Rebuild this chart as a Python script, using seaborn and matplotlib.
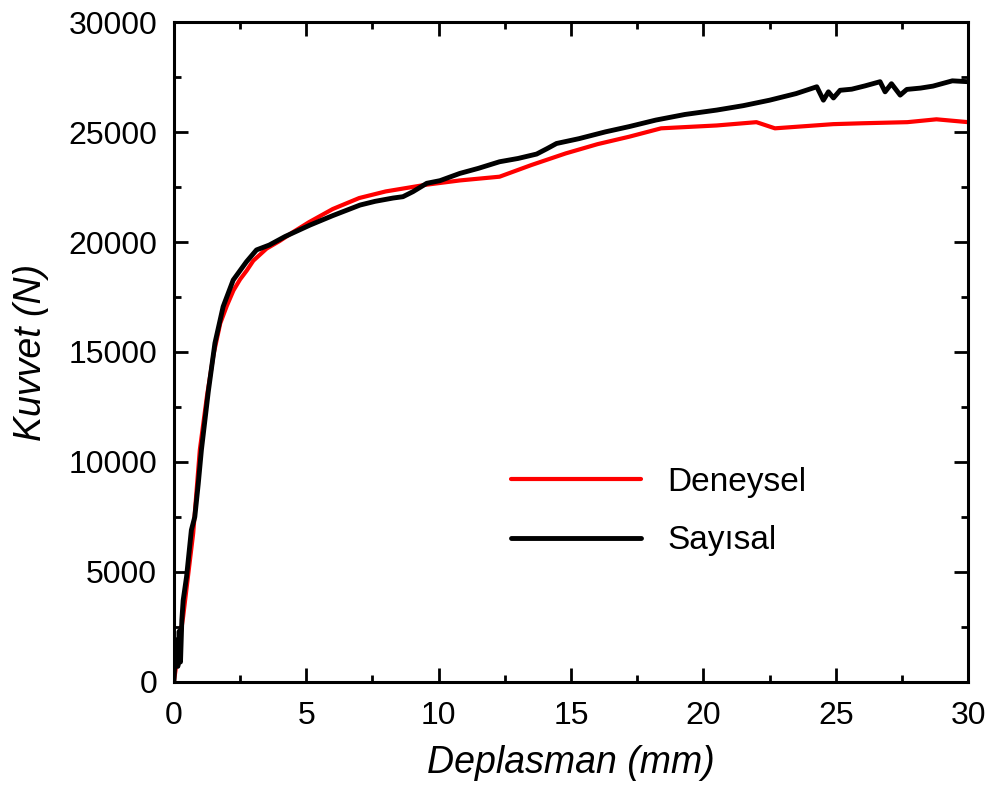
import pandas as pd
import seaborn as sns
import matplotlib.pyplot as plt
from matplotlib.ticker import MultipleLocator

# Deneysel (red) curve
den_x = [0, 0.35, 0.73, 0.98, 1.25, 1.5, 1.75, 2.0, 2.25, 2.5, 2.75, 3.0, 3.5, 4.0,
         4.5, 5.1, 6.0, 7.0, 8.0, 9.5, 10.8, 12.3, 13.5, 14.8, 16.0, 17.2, 18.4,
         20.5, 22.0, 22.7, 24.9, 26.0, 27.7, 28.8, 30]
den_y = [0, 2970, 6770, 10550, 13000, 14900, 16300, 17100, 17800, 18300, 18700, 19150,
         19700, 20050, 20450, 20900, 21500, 22000, 22300, 22600, 22800, 22970, 23500,
         24030, 24450, 24790, 25170, 25300, 25450, 25170, 25360, 25400, 25450, 25580, 25450]

# Sayisal (black) curve
say_x = [0, 0.05, 0.1, 0.15, 0.2, 0.25, 0.3, 0.35, 0.48, 0.66, 0.79, 0.92, 1.04, 1.3,
         1.55, 1.86, 2.24, 2.74, 3.12, 3.6, 4.2, 5.14, 6.0, 7.03, 7.6, 8.28, 8.65, 9.03,
         9.55, 10.05, 10.8, 11.5, 12.3, 13.0, 13.7, 14.1, 14.45, 15.3, 16.3, 17.2, 18.2,
         19.3, 20.5, 21.5, 22.5, 23.5, 24.28, 24.53, 24.72, 24.91, 25.16, 25.6, 26.1,
         26.67, 26.86, 27.1, 27.43, 27.68, 28.2, 28.67, 29.4, 30]
say_y = [0, 1200, 1900, 700, 2300, 900, 2800, 3700, 4790, 6900, 7500, 9000, 10550, 13200,
         15400, 17060, 18270, 19100, 19640, 19860, 20250, 20770, 21200, 21680, 21850,
         22000, 22060, 22290, 22670, 22790, 23120, 23350, 23650, 23800, 24000, 24250,
         24480, 24700, 25010, 25250, 25545, 25800, 26000, 26200, 26450, 26750, 27060,
         26450, 26830, 26550, 26900, 26950, 27100, 27290, 26830, 27200, 26680, 26940,
         27000, 27090, 27330, 27290]

df = pd.concat([
    pd.DataFrame({'x': den_x, 'y': den_y, 'seri': 'Deneysel'}),
    pd.DataFrame({'x': say_x, 'y': say_y, 'seri': 'Sayısal'}),
], ignore_index=True)

sns.set_style('ticks', {'axes.edgecolor': 'black', 'text.color': 'black',
                        'axes.labelcolor': 'black', 'xtick.color': 'black', 'ytick.color': 'black'})
plt.rcParams['font.family'] = ['Liberation Sans', 'DejaVu Sans']

fig = plt.figure(figsize=(9.88, 7.9), dpi=100)
ax = fig.add_axes([0.176, 0.137, 0.804, 0.835])

sns.lineplot(data=df[df.seri == 'Deneysel'], x='x', y='y', sort=False, estimator=None,
             color='#ff0000', lw=3.0, ax=ax, label='Deneysel')
sns.lineplot(data=df[df.seri == 'Sayısal'], x='x', y='y', sort=False, estimator=None,
             color='black', lw=3.5, ax=ax, label='Sayısal')

ax.set_xlim(0, 30)
ax.set_ylim(0, 30000)
ax.xaxis.set_major_locator(MultipleLocator(5))
ax.xaxis.set_minor_locator(MultipleLocator(2.5))
ax.yaxis.set_major_locator(MultipleLocator(5000))
ax.yaxis.set_minor_locator(MultipleLocator(2500))
ax.tick_params(which='both', direction='in', top=True, right=True, width=2, colors='black')
ax.tick_params(which='major', length=10, labelsize=23)
ax.tick_params(axis='x', which='major', pad=14)
ax.tick_params(axis='y', which='major', pad=12)
ax.tick_params(which='minor', length=5)
for s in ax.spines.values():
    s.set_linewidth(2.2)
    s.set_color('black')

lab_font = dict(family=['Liberation Sans Narrow', 'Liberation Sans'], style='italic',
                size=27, color='black')
ax.set_xlabel('Deplasman (mm)', fontdict=lab_font, labelpad=10)
ax.set_ylabel('Kuvvet (N)', fontdict=lab_font, labelpad=14)

leg = ax.legend(loc='upper left', bbox_to_anchor=(0.424, 0.3255), frameon=False, fontsize=24,
                handlelength=3.9, handletextpad=0.8, labelspacing=0.82, borderpad=0,
                borderaxespad=0)
for t in leg.get_texts():
    t.set_color('black')

plt.savefig('out.png', dpi=100)
plt.close()
